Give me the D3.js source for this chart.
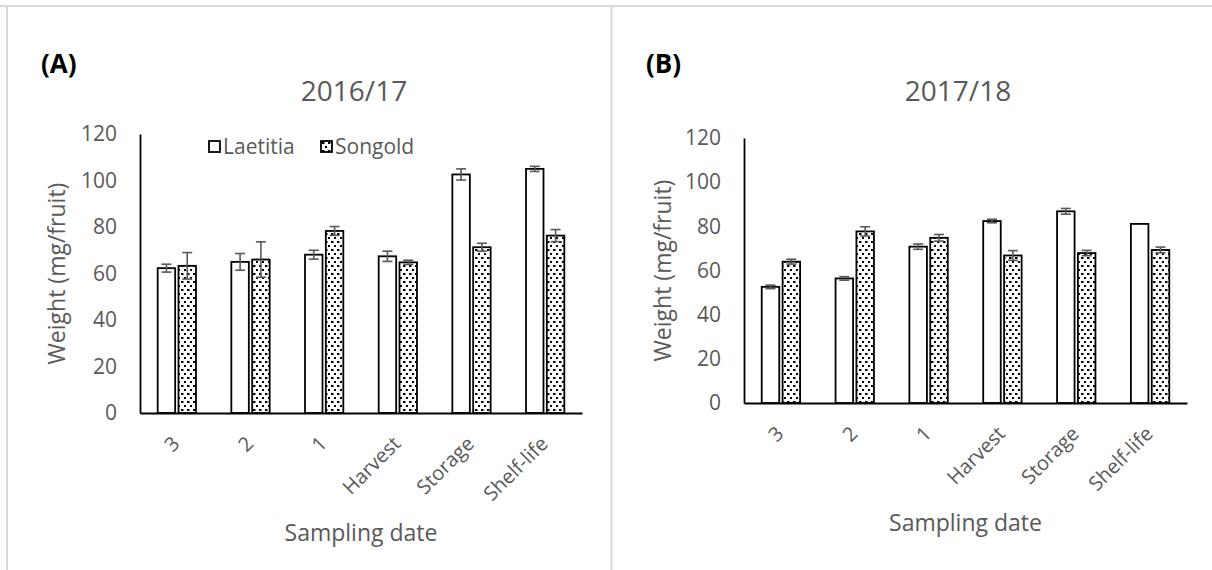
<!DOCTYPE html>
<html>
<head>
<meta charset="utf-8">
<script src="https://cdn.jsdelivr.net/npm/d3@7"></script>
<style>
  body { margin: 0; background: #fff; }
  svg { display: block; }
</style>
</head>
<body>
<div id="chart"></div>
<script>
const categories = ["3", "2", "1", "Harvest", "Storage", "Shelf-life"];
const series = ["Laetitia", "Songold"];
const yTicks = [0, 20, 40, 60, 80, 100, 120];

// 2016/17 season
const laetitia1617 = [62.3, 65.0, 68.1, 67.4, 102.6, 105.0];
const laetitiaErr1617 = [1.7, 3.6, 1.9, 2.2, 2.4, 1.1];
const songold1617 = [63.3, 66.0, 78.3, 64.8, 71.3, 76.3];
const songoldErr1617 = [5.7, 7.6, 1.9, 0.9, 1.7, 2.6];

// 2017/18 season
const laetitia1718 = [52.6, 56.4, 70.8, 82.4, 86.8, 81.1];
const laetitiaErr1718 = [0.8, 0.8, 1.2, 0.8, 1.3, 0];
const songold1718 = [64.0, 77.7, 74.8, 66.8, 67.9, 69.3];
const songoldErr1718 = [1.1, 2.1, 1.5, 2.2, 1.2, 1.3];

const font = "'Open Sans', sans-serif";
const grey = '#595959';

const svg = d3.select('#chart').append('svg')
    .attr('width', 1212)
    .attr('height', 570)
    .attr('font-family', font);

// dotted fill used for Songold
const pat = svg.append('defs').append('pattern')
    .attr('id', 'dots')
    .attr('patternUnits', 'userSpaceOnUse')
    .attr('width', 6)
    .attr('height', 8);
pat.append('rect').attr('width', 6).attr('height', 8).attr('fill', '#fff');
pat.append('rect').attr('x', 1).attr('y', 1).attr('width', 2.5).attr('height', 2).attr('fill', '#000');
pat.append('rect').attr('x', 4).attr('y', 5).attr('width', 2).attr('height', 2).attr('fill', '#000');

// panel frame lines
svg.append('g')
    .attr('stroke', '#d9d9d9')
    .attr('stroke-width', 2)
  .selectAll('line')
  .data([[0, 6, 1212, 6], [7, 6, 7, 570], [611.5, 6, 611.5, 570]])
  .join('line')
    .attr('x1', d => d[0]).attr('y1', d => d[1])
    .attr('x2', d => d[2]).attr('y2', d => d[3]);

function drawPanel(p) {
  const x = d3.scaleBand()
              .domain(categories)
              .range([p.left, p.right]);
  const half = x.bandwidth() * 0.26;
  const xs = d3.scaleBand()
              .domain(series)
              .range([-half, half])
              .paddingInner(0.16);
  const y = d3.scaleLinear()
              .domain([0, 120])
              .range([p.bottom, p.top]);

  const rows = categories.flatMap((c, i) => [
    {cat: c, s: 'Laetitia', v: p.laetitia[i], e: p.laetitiaErr[i]},
    {cat: c, s: 'Songold', v: p.songold[i], e: p.songoldErr[i]}
  ]);
  const cx = d => x(d.cat) + x.bandwidth() / 2 + xs(d.s) + xs.bandwidth() / 2;

  const g = svg.append('g');

  // panel letter and title
  g.append('text')
    .attr('x', p.letterX)
    .attr('y', 73)
    .attr('font-size', '26px')
    .attr('font-weight', 'bold')
    .attr('fill', '#000')
    .text(p.letter);

  g.append('text')
    .attr('x', p.titleX)
    .attr('y', 101)
    .attr('text-anchor', 'middle')
    .attr('font-size', '28px')
    .attr('fill', grey)
    .text(p.title);

  // bars
  g.selectAll('rect.bar')
    .data(rows)
    .join('rect')
      .attr('class', 'bar')
      .attr('x', d => x(d.cat) + x.bandwidth() / 2 + xs(d.s))
      .attr('y', d => y(d.v))
      .attr('width', xs.bandwidth())
      .attr('height', d => y(0) - y(d.v))
      .attr('fill', d => d.s === 'Songold' ? 'url(#dots)' : '#fff')
      .attr('stroke', '#000')
      .attr('stroke-width', 1.8);

  // error bars
  const err = g.selectAll('g.err')
    .data(rows.filter(d => d.e > 0))
    .join('g')
      .attr('class', 'err')
      .attr('stroke', grey)
      .attr('stroke-width', 1.6);
  err.append('line')
    .attr('x1', cx).attr('x2', cx)
    .attr('y1', d => y(d.v + d.e)).attr('y2', d => y(d.v - d.e));
  err.append('line')
    .attr('x1', d => cx(d) - 5).attr('x2', d => cx(d) + 5)
    .attr('y1', d => y(d.v + d.e)).attr('y2', d => y(d.v + d.e));
  err.append('line')
    .attr('x1', d => cx(d) - 5).attr('x2', d => cx(d) + 5)
    .attr('y1', d => y(d.v - d.e)).attr('y2', d => y(d.v - d.e));

  // y axis
  g.append('g')
    .attr('transform', `translate(${p.left},0)`)
    .call(d3.axisLeft(y).tickValues(yTicks).tickSize(0).tickPadding(23))
    .attr('font-family', font)
    .attr('font-size', '21px')
    .call(a => a.select('.domain').attr('stroke', '#000').attr('stroke-width', 1.8))
    .call(a => a.selectAll('text').attr('fill', grey));

  // x axis
  g.append('g')
    .attr('transform', `translate(0,${p.bottom})`)
    .call(d3.axisBottom(x).tickSize(0))
    .attr('font-family', font)
    .attr('font-size', '20px')
    .call(a => a.select('.domain').attr('stroke', '#000').attr('stroke-width', 1.8))
    .selectAll('text')
      .attr('fill', grey)
      .attr('y', 0)
      .attr('dy', 0)
      .attr('text-anchor', 'end')
      .attr('transform', 'translate(4,32) rotate(-45)');

  // axis titles
  g.append('text')
    .attr('transform', `translate(${p.yLabelX},${(p.top + p.bottom) / 2}) rotate(-90)`)
    .attr('text-anchor', 'middle')
    .attr('font-size', '23px')
    .attr('fill', grey)
    .text('Weight (mg/fruit)');

  g.append('text')
    .attr('x', (p.left + p.right) / 2)
    .attr('y', p.xLabelY)
    .attr('text-anchor', 'middle')
    .attr('font-size', '23px')
    .attr('fill', grey)
    .text('Sampling date');

  if (p.legend) {
    const lg = g.append('g')
      .selectAll('g')
      .data(series)
      .join('g')
        .attr('transform', (d, i) => `translate(${[209, 321][i]},141)`);
    lg.append('rect')
      .attr('width', 11)
      .attr('height', 11)
      .attr('fill', d => d === 'Songold' ? 'url(#dots)' : '#fff')
      .attr('stroke', '#000')
      .attr('stroke-width', 1.8);
    lg.append('text')
      .attr('x', 14)
      .attr('y', 13)
      .attr('font-size', '21px')
      .attr('fill', grey)
      .text(d => d);
  }
}

drawPanel({
  letter: '(A)', letterX: 41, title: '2016/17', titleX: 354,
  left: 140, right: 582, top: 134, bottom: 413,
  yLabelX: 65, xLabelY: 541, legend: true,
  laetitia: laetitia1617, laetitiaErr: laetitiaErr1617,
  songold: songold1617, songoldErr: songoldErr1617
});

drawPanel({
  letter: '(B)', letterX: 646, title: '2017/18', titleX: 958,
  left: 744, right: 1187, top: 138, bottom: 403,
  yLabelX: 671, xLabelY: 531, legend: false,
  laetitia: laetitia1718, laetitiaErr: laetitiaErr1718,
  songold: songold1718, songoldErr: songoldErr1718
});
</script>
</body>
</html>
